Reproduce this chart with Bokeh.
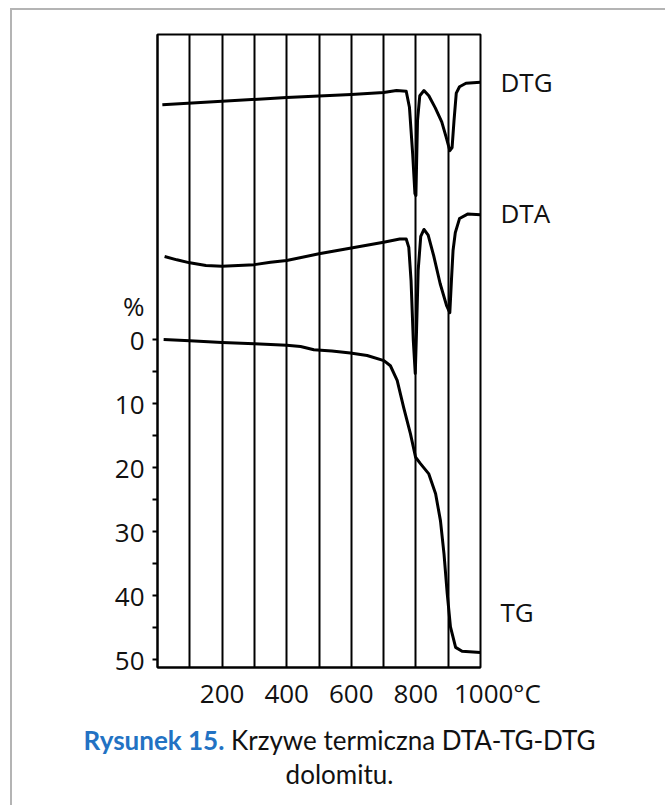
from bokeh.plotting import figure
from bokeh.models import Range1d, FixedTicker, LinearAxis, Div
from bokeh.layouts import column
from bokeh.embed import file_html
from bokeh.resources import INLINE

# ---- data ----
# temperature in deg C
temp_tg = [19, 100, 200, 300, 400, 443, 484, 540, 597, 649, 701, 721, 742, 762, 783,
           799, 814, 840, 861, 876, 887, 897, 907, 923, 943, 1000]
# mass loss, %
tg = [0.0, 0.2, 0.45, 0.65, 0.9, 1.1, 1.6, 1.8, 2.1, 2.5, 3.3, 4.1, 6.4, 10.6, 14.7,
      18.4, 19.4, 21.0, 24.1, 28.3, 33.5, 39.7, 44.9, 48.1, 48.7, 48.9]

# DTA curve (relative deflection, drawn on the same vertical scale)
temp_dta = [22, 60, 100, 150, 200, 300, 350, 400, 500, 600, 700, 750, 770, 778, 785,
            792, 798, 802, 807, 815, 825, 838, 855, 875, 895, 905, 910, 915, 922, 935,
            960, 1000]
dta = [-12.97, -12.45, -11.98, -11.56, -11.45, -11.7, -12.08, -12.34, -13.4, -14.3,
       -15.2, -15.7, -15.7, -14.4, -9.2, 0.2, 5.3, -1.4, -10.8, -16.1, -17.2, -16.3,
       -13.1, -8.75, -5.3, -4.2, -9.2, -13.9, -16.7, -18.9, -19.6, -19.5]

# DTG curve (relative deflection, drawn on the same vertical scale)
temp_dtg = [15, 400, 600, 700, 740, 770, 780, 790, 797, 800, 805, 812, 825, 840, 860,
            880, 895, 905, 912, 918, 925, 935, 955, 1000]
dtg = [-36.7, -37.8, -38.3, -38.6, -38.9, -38.8, -36.3, -29.0, -22.8, -22.5, -34.2,
       -38.1, -38.9, -38.1, -36.2, -34.0, -31.4, -29.5, -30.0, -34.2, -38.5, -39.5,
       -40.05, -40.2]

y_ticks = [0, 10, 20, 30, 40, 50]
y_minor_ticks = [0, 5, 10, 15, 20, 25, 30, 35, 40, 45, 50]
x_ticks = [200, 400, 600, 800, 1000]
grid_ticks = [0, 100, 200, 300, 400, 500, 600, 700, 800, 900, 1000]

curve_names = ["DTG", "DTA", "TG"]
curve_label_y = [-40.3, -19.8, 42.5]
y_unit = "%"
y_unit_pos = -5.3
x_unit = "°C"
caption_bold = "Rysunek 15."
caption_rest = "Krzywe termiczna DTA-TG-DTG"
caption_line2 = "dolomitu."

FONT = "Open Sans"
CAP_FONT = "Lato"
TXT = "#111111"

# ---------------- main chart ----------------
p = figure(width=645, height=708,
           x_range=Range1d(0, 1000), y_range=Range1d(51.25, -47.66),
           output_backend="svg", toolbar_location=None,
           min_border_left=145, min_border_right=177,
           min_border_top=24, min_border_bottom=51)

p.background_fill_color = "white"
p.border_fill_color = "white"
p.outline_line_color = "black"
p.outline_line_width = 2

# vertical lines every 100 deg
p.xgrid.ticker = FixedTicker(ticks=grid_ticks)
p.xgrid.grid_line_color = "black"
p.xgrid.grid_line_width = 2
p.xgrid.grid_line_alpha = 1.0
p.ygrid.visible = False

# y axis (TG, %)
ya = p.yaxis[0]
ya.ticker = FixedTicker(ticks=[y_unit_pos] + y_ticks, minor_ticks=y_minor_ticks)
ya.major_label_overrides = {y_unit_pos: y_unit}
ya.axis_line_color = "black"
ya.axis_line_width = 2
ya.major_tick_line_color = None
ya.major_tick_in = 0
ya.major_tick_out = 0
ya.minor_tick_line_color = "black"
ya.minor_tick_line_width = 2
ya.minor_tick_in = 0
ya.minor_tick_out = 5
ya.major_label_text_font = FONT
ya.major_label_text_font_size = "26px"
ya.major_label_text_color = TXT
ya.major_label_standoff = 8

# x axis (temperature)
xa = p.xaxis[0]
xa.ticker = FixedTicker(ticks=x_ticks)
xa.major_label_overrides = {1000: "\u00a0" * 5 + "1000" + x_unit}
xa.axis_line_color = "black"
xa.axis_line_width = 2
xa.major_tick_in = 0
xa.major_tick_out = 0
xa.minor_tick_line_color = None
xa.major_label_text_font = FONT
xa.major_label_text_font_size = "26px"
xa.major_label_text_color = TXT
xa.major_label_standoff = 7

# curve names on the right
ra = LinearAxis(ticker=FixedTicker(ticks=curve_label_y),
                major_label_overrides=dict(zip(curve_label_y, curve_names)))
ra.axis_line_color = None
ra.major_tick_line_color = None
ra.minor_tick_line_color = None
ra.major_tick_out = 0
ra.major_tick_in = 0
ra.major_label_standoff = 20
ra.major_label_text_font = FONT
ra.major_label_text_font_size = "26px"
ra.major_label_text_color = TXT
p.add_layout(ra, "right")

# curves
p.line(temp_dtg, dtg, line_color="black", line_width=3, line_join="round")
p.line(temp_dta, dta, line_color="black", line_width=3, line_join="round")
p.line(temp_tg, tg, line_color="black", line_width=3, line_join="round")

# ---------------- caption ----------------
caption_html = ('<span style="color:#2272C3;font-weight:bold">%s</span> %s<br>%s'
                % (caption_bold, caption_rest, caption_line2))
cap = Div(text=caption_html, width=645, height=87,
          styles={"font-family": CAP_FONT, "font-size": "26px", "line-height": "34px",
                  "text-align": "center", "color": TXT, "background": "white"})

layout = column(p, cap, spacing=0)
layout.styles = {
    "margin-left": "10px",
    "margin-top": "8px",
    "border-top": "2px solid #b4b4b4",
    "border-left": "2px solid #b4b4b4",
    "border-right": "2px solid #b4b4b4",
    "box-shadow": "6px 6px 0 #8a8a8a",
    "background": "white",
}

open("out.html", "w").write(file_html(layout, INLINE))
